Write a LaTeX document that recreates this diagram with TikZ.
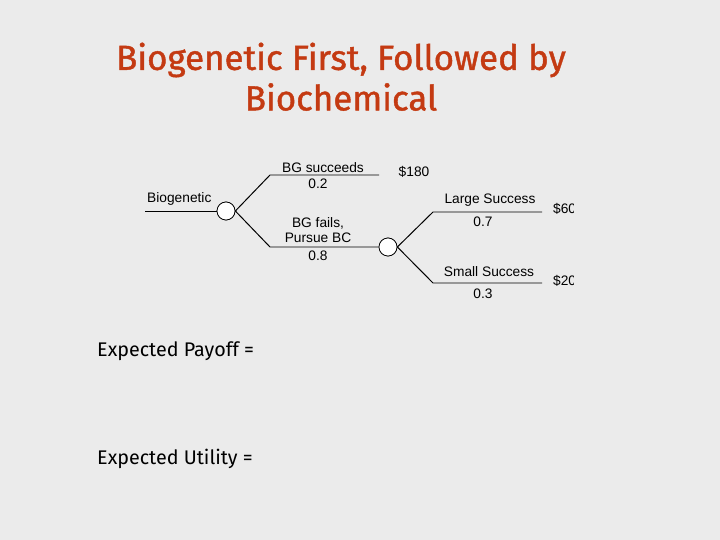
\documentclass[tikz,border=0pt]{standalone}
\usepackage{fontspec}
\setmainfont{Liberation Sans}
\newfontfamily\titrefont{Fira Sans}[FakeBold=1.2]
\newfontfamily\textefont{Fira Sans}
\usetikzlibrary{positioning}
\definecolor{fondGris}{RGB}{235,235,235}
\definecolor{rougeTitre}{RGB}{196,58,18}

\begin{document}
\begin{tikzpicture}[x=1bp,y=-1bp,
  hasard/.style={circle,draw=black,line width=0.7pt,fill=white,minimum size=18bp,inner sep=0pt},
  branche/.style={black,line width=1pt},
  etiq/.style={inner sep=0pt,font=\fontsize{13.8}{15.5}\selectfont},
  titre/.style={inner sep=0pt,text=rougeTitre,font=\titrefont\fontsize{35}{40}\selectfont},
  resultat/.style={inner sep=0pt,anchor=west,font=\textefont\fontsize{19.8}{22}\selectfont}]
  \fill[fondGris] (0,0) rectangle (720,540);

  % titre
  \node[titre] (T1) at (341,60) {Biogenetic First, Followed by};
  \node[titre] (T2) at (341,97) {Biochemical};

  % arbre
  \coordinate (D0) at (145,211);
  \node[hasard] (H1) at (226,211) {};
  \coordinate (A1) at (270,175);
  \coordinate (A2) at (379,175);
  \coordinate (B1) at (270,247);
  \node[hasard] (H2) at (388,247) {};
  \coordinate (C1) at (433,212);
  \coordinate (C2) at (542,212);
  \coordinate (E1) at (433,283);
  \coordinate (E2) at (542,283);

  \draw[branche] (D0) -- (H1.west);
  \draw[branche] (H1.east) -- (A1) -- (A2);
  \draw[branche] (H1.east) -- (B1) -- (H2.west);
  \draw[branche] (H2.east) -- (C1) -- (C2);
  \draw[branche] (H2.east) -- (E1) -- (E2);
  \node[hasard] at (H1) {};
  \node[hasard] at (H2) {};

  \node[etiq,anchor=south west] (L0) at (147,206) {Biogenetic};
  \node[etiq] (L1) at (323,168) {BG succeeds};
  \node[etiq] (P1) at (318,184) {0.2};
  \node[etiq] (R1) at (414,172) {\$180};
  \node[etiq,align=center] (L2) at (318,230) {BG fails,\\Pursue BC};
  \node[etiq] (P2) at (318,256) {0.8};
  \node[etiq] (L3) at (490,200) {Large Success};
  \node[etiq] (P3) at (483,222) {0.7};
  \node[etiq] (L4) at (489,272) {Small Success};
  \node[etiq] (P4) at (483,294) {0.3};
  \begin{scope}
    \clip (0,0) rectangle (573,540);
    \node[etiq,anchor=west] (R2) at (553,209) {\$60};
    \node[etiq,anchor=west] (R3) at (553,281) {\$20};
  \end{scope}

  % valeurs attendues
  \node[resultat] (EP) at (97,351) {Expected Payoff =};
  \node[resultat] (EU) at (97,459) {Expected Utility =};
\end{tikzpicture}
\end{document}
